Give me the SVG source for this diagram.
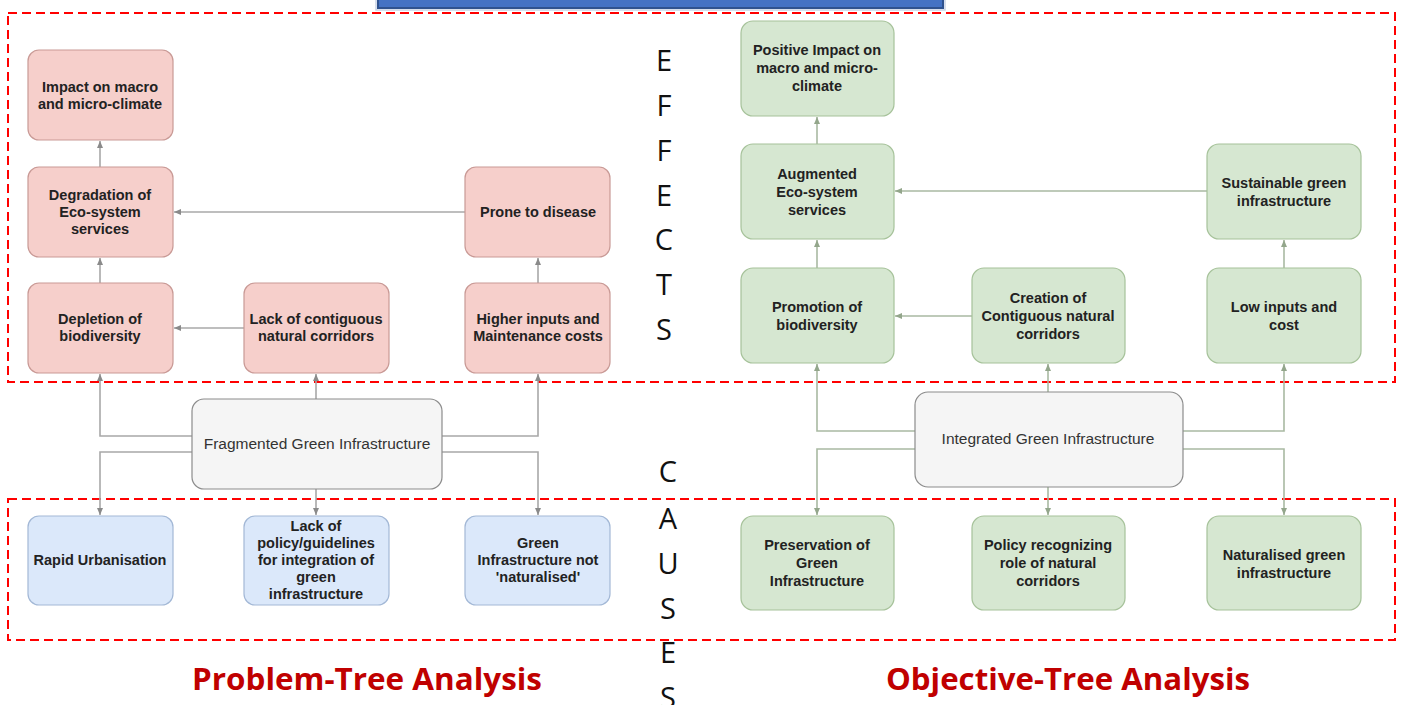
<svg xmlns="http://www.w3.org/2000/svg" width="1424" height="705" viewBox="0 0 1424 705">
<style>
.nr{fill:#f6cfcb;stroke:#c99a96;stroke-width:1.2}
.ng{fill:#d6e7d1;stroke:#a6c29a;stroke-width:1.2}
.nb{fill:#dbe8fa;stroke:#a3b8d6;stroke-width:1.2}
.nc{fill:#f5f5f5;stroke:#8c8c8c;stroke-width:1.2}
.t{font-family:"Liberation Sans",Arial,sans-serif;font-weight:bold;font-size:14.5px;fill:#222;text-anchor:middle}
.tc{font-family:"Liberation Sans",Arial,sans-serif;font-size:15.5px;fill:#333;text-anchor:middle}
.cl{fill:none;stroke:#a8a8a8;stroke-width:1.6;marker-end:url(#al)}
.cr{fill:none;stroke:#a9b9a2;stroke-width:1.6;marker-end:url(#ar)}
.dash{fill:none;stroke:#ff0000;stroke-width:2;stroke-dasharray:9 5}
.lt{font-family:"Open Sans","DejaVu Sans",sans-serif;font-size:29px;fill:#111;text-anchor:middle}
.ttl{font-family:"Open Sans","Liberation Sans",sans-serif;font-weight:bold;font-size:30px;fill:#c00000}
</style>
<defs>
<marker id="al" markerWidth="8" markerHeight="8" refX="7" refY="4" orient="auto" markerUnits="userSpaceOnUse"><path d="M0,1 L7,4 L0,7 Z" fill="#8a8a8a"/></marker>
<marker id="ar" markerWidth="8" markerHeight="8" refX="7" refY="4" orient="auto" markerUnits="userSpaceOnUse"><path d="M0,1 L7,4 L0,7 Z" fill="#93a68b"/></marker>
</defs>
<rect width="1424" height="705" fill="#ffffff"/>
<rect x="378" y="-10" width="565" height="18" fill="#4472c4" stroke="#2f528f" stroke-width="2"/>
<rect x="376" y="-12" width="569" height="22" fill="none" stroke="#c9d3e6" stroke-width="1.5"/>
<rect class="dash" x="8" y="13" width="1387" height="369"/>
<rect class="dash" x="8" y="499" width="1387" height="141"/>

<g id="connectors">
<path class="cl" d="M100 167 V141"/>
<path class="cl" d="M100 283 V258"/>
<path class="cl" d="M244 328 H174"/>
<path class="cl" d="M465 212 H174"/>
<path class="cl" d="M538 283 V258"/>
<path class="cl" d="M192 436 H100 V374"/>
<path class="cl" d="M316 399 V374"/>
<path class="cl" d="M442 436 H538 V374"/>
<path class="cl" d="M192 452 H100 V515"/>
<path class="cl" d="M316 489 V515"/>
<path class="cl" d="M442 452 H538 V515"/>
<path class="cr" d="M817 144 V117"/>
<path class="cr" d="M817 268 V240"/>
<path class="cr" d="M1207 191 H895"/>
<path class="cr" d="M972 316 H895"/>
<path class="cr" d="M1284 268 V240"/>
<path class="cr" d="M915 431 H817 V364"/>
<path class="cr" d="M1048 392 V364"/>
<path class="cr" d="M1183 431 H1284 V364"/>
<path class="cr" d="M915 449 H817 V515"/>
<path class="cr" d="M1048 487 V515"/>
<path class="cr" d="M1183 449 H1284 V515"/>
</g>

<g id="p-impact"><rect class="nr" x="28" y="50" width="145" height="90" rx="11"/><text class="t" x="100" y="92">Impact on macro</text><text class="t" x="100" y="109">and micro-climate</text></g>
<g id="p-degradation"><rect class="nr" x="28" y="167" width="145" height="90" rx="11"/><text class="t" x="100" y="200">Degradation of</text><text class="t" x="100" y="217">Eco-system</text><text class="t" x="100" y="234">services</text></g>
<g id="p-prone"><rect class="nr" x="465" y="167" width="145" height="90" rx="11"/><text class="t" x="538" y="217">Prone to disease</text></g>
<g id="p-depletion"><rect class="nr" x="28" y="283" width="145" height="90" rx="11"/><text class="t" x="100" y="324">Depletion of</text><text class="t" x="100" y="341">biodiversity</text></g>
<g id="p-lack-corridors"><rect class="nr" x="244" y="283" width="145" height="90" rx="11"/><text class="t" x="316" y="324">Lack of contiguous</text><text class="t" x="316" y="341">natural corridors</text></g>
<g id="p-higher"><rect class="nr" x="465" y="283" width="145" height="90" rx="11"/><text class="t" x="538" y="324">Higher inputs and</text><text class="t" x="538" y="341">Maintenance costs</text></g>
<g id="p-fragmented"><rect class="nc" x="192" y="399" width="250" height="90" rx="12"/><text class="tc" x="317" y="449">Fragmented Green Infrastructure</text></g>
<g id="p-rapid"><rect class="nb" x="28" y="516" width="145" height="89" rx="11"/><text class="t" x="100" y="565">Rapid Urbanisation</text></g>
<g id="p-policy"><rect class="nb" x="244" y="516" width="145" height="89" rx="11"/><text class="t" x="316" y="531">Lack of</text><text class="t" x="316" y="548">policy/guidelines</text><text class="t" x="316" y="565">for integration of</text><text class="t" x="316" y="582">green</text><text class="t" x="316" y="599">infrastructure</text></g>
<g id="p-notnat"><rect class="nb" x="465" y="516" width="145" height="89" rx="11"/><text class="t" x="538" y="548">Green</text><text class="t" x="538" y="565">Infrastructure not</text><text class="t" x="538" y="582">'naturalised'</text></g>

<g id="o-positive"><rect class="ng" x="741" y="21" width="153" height="95" rx="12"/><text class="t" x="817" y="55">Positive Impact on</text><text class="t" x="817" y="73">macro and micro-</text><text class="t" x="817" y="91">climate</text></g>
<g id="o-augmented"><rect class="ng" x="741" y="144" width="153" height="95" rx="12"/><text class="t" x="817" y="179">Augmented</text><text class="t" x="817" y="197">Eco-system</text><text class="t" x="817" y="215">services</text></g>
<g id="o-sustainable"><rect class="ng" x="1207" y="144" width="154" height="95" rx="12"/><text class="t" x="1284" y="188">Sustainable green</text><text class="t" x="1284" y="206">infrastructure</text></g>
<g id="o-promotion"><rect class="ng" x="741" y="268" width="153" height="95" rx="12"/><text class="t" x="817" y="312">Promotion of</text><text class="t" x="817" y="330">biodiversity</text></g>
<g id="o-creation"><rect class="ng" x="972" y="268" width="153" height="95" rx="12"/><text class="t" x="1048" y="303">Creation of</text><text class="t" x="1048" y="321">Contiguous natural</text><text class="t" x="1048" y="339">corridors</text></g>
<g id="o-low"><rect class="ng" x="1207" y="268" width="154" height="95" rx="12"/><text class="t" x="1284" y="312">Low inputs and</text><text class="t" x="1284" y="330">cost</text></g>
<g id="o-integrated"><rect class="nc" x="915" y="392" width="268" height="95" rx="13"/><text class="tc" x="1048" y="444">Integrated Green Infrastructure</text></g>
<g id="o-preservation"><rect class="ng" x="741" y="516" width="153" height="94" rx="12"/><text class="t" x="817" y="550">Preservation of</text><text class="t" x="817" y="568">Green</text><text class="t" x="817" y="586">Infrastructure</text></g>
<g id="o-policy"><rect class="ng" x="972" y="516" width="153" height="94" rx="12"/><text class="t" x="1048" y="550">Policy recognizing</text><text class="t" x="1048" y="568">role of natural</text><text class="t" x="1048" y="586">corridors</text></g>
<g id="o-naturalised"><rect class="ng" x="1207" y="516" width="154" height="94" rx="12"/><text class="t" x="1284" y="560">Naturalised green</text><text class="t" x="1284" y="578">infrastructure</text></g>

<g id="effects-label">
<text class="lt" x="664" y="71">E</text><text class="lt" x="664" y="116">F</text><text class="lt" x="664" y="161">F</text><text class="lt" x="664" y="206">E</text><text class="lt" x="664" y="250">C</text><text class="lt" x="664" y="295">T</text><text class="lt" x="664" y="340">S</text>
</g>
<g id="causes-label">
<text class="lt" x="668" y="482">C</text><text class="lt" x="668" y="529">A</text><text class="lt" x="668" y="574">U</text><text class="lt" x="668" y="619">S</text><text class="lt" x="668" y="663">E</text><text class="lt" x="668" y="708">S</text>
</g>
<text class="ttl" x="192" y="690" textLength="350" lengthAdjust="spacingAndGlyphs">Problem-Tree Analysis</text>
<text class="ttl" x="886" y="690" textLength="364" lengthAdjust="spacingAndGlyphs">Objective-Tree Analysis</text>
</svg>
